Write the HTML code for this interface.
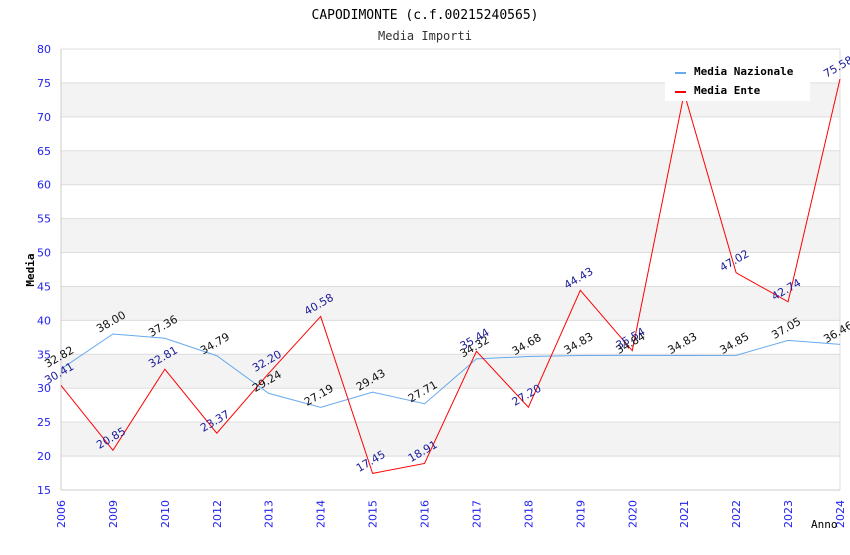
<!DOCTYPE html>
<html><head><meta charset="utf-8"><style>
body{margin:0;background:#fff}
svg text{font-family:"DejaVu Sans","Liberation Sans",sans-serif}
</style></head><body>
<svg id="c" width="850" height="550" xmlns="http://www.w3.org/2000/svg">
<text x="425" y="19" text-anchor="middle" font-size="13" fill="#000" style="font-family:'DejaVu Sans Mono','Liberation Mono',monospace">CAPODIMONTE (c.f.00215240565)</text>
<text x="425" y="40" text-anchor="middle" font-size="12" fill="#333" style="font-family:'DejaVu Sans Mono','Liberation Mono',monospace">Media Importi</text>
<g id="bands"></g><g id="grid"></g><g id="axes"></g><g id="lines"></g><g id="labels"></g>
<text x="34" y="270" transform="rotate(-90 34 270)" text-anchor="middle" font-size="11" font-weight="bold" style="font-family:'DejaVu Sans Mono','Liberation Mono',monospace">Media</text>
<text x="811" y="528" font-size="11" style="font-family:'DejaVu Sans Mono','Liberation Mono',monospace">Anno</text>
<g>
<rect x="665" y="60" width="145" height="41" fill="#fff"/>
<line x1="675" y1="73" x2="686" y2="73" stroke="#66aaee" stroke-width="2"/>
<text x="694" y="75" font-size="11" font-weight="bold" style="font-family:'DejaVu Sans Mono','Liberation Mono',monospace">Media Nazionale</text>
<line x1="675" y1="92" x2="686" y2="92" stroke="#ff0000" stroke-width="2"/>
<text x="694" y="94" font-size="11" font-weight="bold" style="font-family:'DejaVu Sans Mono','Liberation Mono',monospace">Media Ente</text>
</g>
</svg>
<script>
const categories=["2006","2009","2010","2012","2013","2014","2015","2016","2017","2018","2019","2020","2021","2022","2023","2024"];
const nazionale=[32.82,38.00,37.36,34.79,29.24,27.19,29.43,27.71,34.32,34.68,34.83,34.84,34.83,34.85,37.05,36.46];
const ente=[30.41,20.85,32.81,23.37,32.20,40.58,17.45,18.91,35.44,27.20,44.43,35.54,73.50,47.02,42.74,75.58];
const yTicks=[15,20,25,30,35,40,45,50,55,60,65,70,75,80];
const NS="http://www.w3.org/2000/svg";
const L=61,R=840,T=49,B=490,yMin=15,yMax=80;
const xs=i=>L+i*(R-L)/(categories.length-1);
const ys=v=>B-(v-yMin)/(yMax-yMin)*(B-T);
function mk(tag,attrs,parent){const e=document.createElementNS(NS,tag);for(const k in attrs)e.setAttribute(k,attrs[k]);document.getElementById(parent).appendChild(e);return e;}
for(let i=0;i<yTicks.length-1;i++){
  if(i%2===1){const b=mk('rect',{x:L,y:ys(yTicks[i+1]),width:R-L,height:ys(yTicks[i])-ys(yTicks[i+1]),fill:'#f3f3f3'},'bands');
  
  }
}
yTicks.forEach(t=>{
  const g=mk('line',{x1:L,x2:R,y1:ys(t),y2:ys(t),stroke:'#dddddd'},'grid');
  
  
  const tx=mk('text',{x:51,y:ys(t)+4,'text-anchor':'end','font-size':'11',fill:'#2222ee'},'axes');
  tx.textContent=t;
  
  
});
mk('line',{x1:L,x2:L,y1:T,y2:B,stroke:'#cccccc'},'axes');
mk('line',{x1:R,x2:R,y1:T,y2:B,stroke:'#dddddd'},'axes');
mk('line',{x1:L,x2:R,y1:B,y2:B,stroke:'#cccccc'},'axes');
categories.forEach((c,i)=>{
  const x=xs(i)+4,y=528;
  const tx=mk('text',{x:x,y:y,transform:`rotate(-90 ${x} ${y})`,'font-size':'11',fill:'#2222ee'},'axes');
  tx.textContent=c;
  
  
});
function series(vals,color,name,labColor){
  const p=mk('polyline',{points:vals.map((v,i)=>xs(i)+','+ys(v)).join(' '),fill:'none',stroke:color,'stroke-width':1},'lines');
  
  
  vals.forEach((v,i)=>{
    const x=xs(i),y=ys(v)-9;
    const t=mk('text',{x:x,y:y,'text-anchor':'middle','font-size':'11',fill:labColor,transform:`rotate(-30 ${x} ${y})`},'labels');
    t.textContent=v.toFixed(2);
    
    
  });
}
series(nazionale,'#66aaee','nazionale','#111');
series(ente,'#ff0000','ente','#1a1a99');
</script>
</body></html>
